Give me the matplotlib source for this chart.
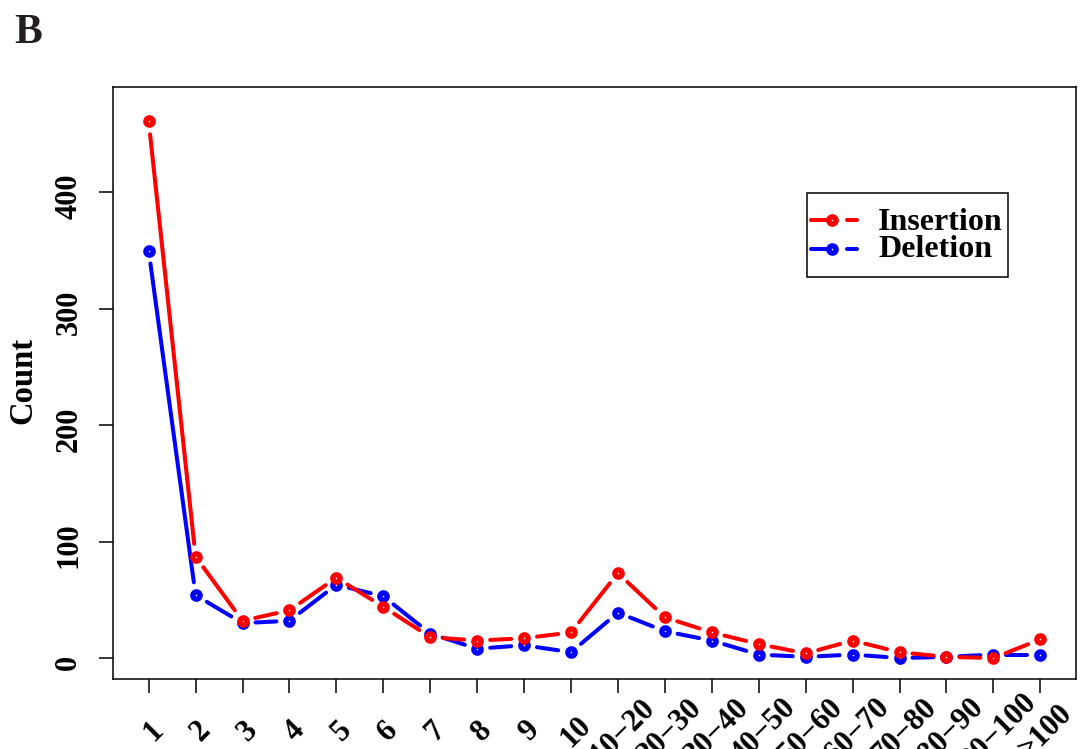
import matplotlib
matplotlib.use("Agg")
import matplotlib.pyplot as plt
import numpy as np
from matplotlib.transforms import ScaledTranslation
from matplotlib.patches import Rectangle
from matplotlib.lines import Line2D

# Indel length classes and counts
categories = ["1", "2", "3", "4", "5", "6", "7", "8", "9", "10",
              "10\u221220", "20\u221230", "30\u221240", "40\u221250", "50\u221260",
              "60\u221270", "70\u221280", "80\u221290", "90\u2212100", ">100"]
insertion = [461, 87, 32, 41, 69, 44, 18, 15, 17, 22,
             73, 35, 22, 12, 4, 15, 5, 1, 0, 16]
deletion = [350, 54, 30, 32, 63, 53, 21, 8, 11, 5,
            39, 23, 15, 3, 1, 3, 0, 1, 3, 3]
y_ticks = [0, 100, 200, 300, 400]

plt.rcParams["font.family"] = ["Liberation Serif", "DejaVu Serif"]
plt.rcParams["font.weight"] = "bold"

W, H = 1080, 749
fig = plt.figure(figsize=(W / 100, H / 100), dpi=100)
ax = fig.add_axes([113 / W, 1 - 679 / H, 963 / W, 592 / H])

x = np.arange(1, len(categories) + 1)
ax.set_xlim(0.24, len(categories) + 0.76)
ax.set_ylim(-18, 490.5)

LW = 2.9      # line width, points
GAP = 13      # gap around each point, pixels
MS, MEW = 5.2, 3.9


def draw_series(vals, color):
    """Points joined by segments that stop short of each point."""
    pts = ax.transData.transform(np.column_stack([x, vals]))
    inv = ax.transData.inverted()
    for p0, p1 in zip(pts[:-1], pts[1:]):
        d = p1 - p0
        length = np.hypot(*d)
        if length <= 2 * GAP:
            continue
        u = d / length
        a = inv.transform(p0 + u * GAP)
        b = inv.transform(p1 - u * GAP)
        ax.plot([a[0], b[0]], [a[1], b[1]], color=color, lw=LW,
                solid_capstyle="round", zorder=2)
    ax.plot(x, vals, ls="none", marker="o", ms=MS, mew=MEW,
            mec=color, mfc="white", zorder=3)


draw_series(deletion, "#0000ff")
draw_series(insertion, "#ff0000")

for s in ax.spines.values():
    s.set_linewidth(1.1)

ax.tick_params(axis="both", direction="out", length=9.8, width=1.1,
               top=False, right=False)

# y axis: vertical labels
ax.set_yticks(y_ticks)
ax.set_yticklabels([str(v) for v in y_ticks], fontsize=22, fontweight="bold")
ax.tick_params(axis="y", pad=22)
yshift = ScaledTranslation(0, -4 / 100, fig.dpi_scale_trans)
for lab in ax.get_yticklabels():
    lab.set_rotation(90)
    lab.set_ha("center")
    lab.set_va("center")
    lab.set_rotation_mode("anchor")
    lab.set_transform(lab.get_transform() + yshift)

# x axis: slanted labels
ax.set_xticks(x)
ax.set_xticklabels(categories, fontsize=22, fontweight="bold")
ax.tick_params(axis="x", pad=28)
xshift = ScaledTranslation(5 / 100, 0, fig.dpi_scale_trans)
for lab in ax.get_xticklabels():
    lab.set_rotation(45)
    lab.set_ha("center")
    lab.set_va("center")
    lab.set_rotation_mode("anchor")
    lab.set_transform(lab.get_transform() + xshift)

ax.set_ylabel("Count", fontsize=23.5, fontweight="bold")
ax.yaxis.label.set_va("center")
ax.yaxis.set_label_coords((22.5 - 113) / 963, 0.505)

# panel letter
fig.text(14 / W, 1 - 43 / H, "B", fontsize=30, fontweight="bold",
         color="#231f20", ha="left", va="baseline")

# legend
fig.add_artist(Rectangle((807 / W, 1 - 277 / H), 201 / W, 84 / H,
                         transform=fig.transFigure, fill=False,
                         lw=1.1, ec="black"))
for name, color, ly, base in [("Insertion", "#ff0000", 220, 230),
                              ("Deletion", "#0000ff", 249, 257)]:
    yy = 1 - ly / H
    fig.add_artist(Line2D([811 / W, 827 / W], [yy, yy], color=color, lw=LW,
                          solid_capstyle="round", transform=fig.transFigure))
    fig.add_artist(Line2D([847 / W, 857 / W], [yy, yy], color=color, lw=LW,
                          solid_capstyle="round", transform=fig.transFigure))
    fig.add_artist(Line2D([832 / W], [yy], ls="none", marker="o", ms=MS,
                          mew=MEW, mec=color, mfc="white",
                          transform=fig.transFigure))
    fig.text(878 / W, 1 - base / H, name, fontsize=23, fontweight="bold",
             ha="left", va="baseline")

fig.savefig("out.png", dpi=100)
